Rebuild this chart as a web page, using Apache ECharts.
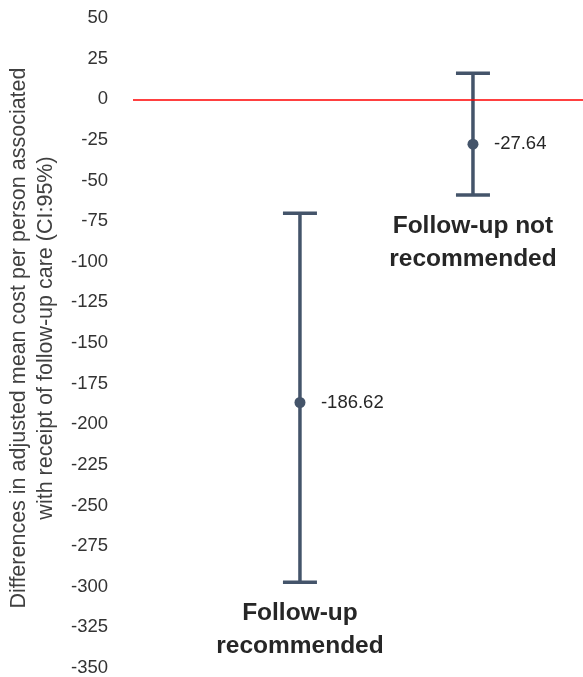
<!DOCTYPE html>
<html>
<head>
<meta charset="utf-8">
<script src="https://cdn.jsdelivr.net/npm/echarts@6/dist/echarts.min.js"></script>
<style>html,body{margin:0;padding:0;background:#fff;}#c{width:583px;height:677px;}</style>
</head>
<body>
<div id="c"></div>
<script>
const categories = ['Follow-up\nrecommended', 'Follow-up not\nrecommended'];
const xPos = [1, 2];
const means = [-186.62, -27.64];
const lowerCI = [-297.2, -58.9];
const upperCI = [-70.2, 16.0];
const meanLabels = ['-186.62', '-27.64'];
const yMin = -350, yMax = 50, yStep = 25;
const yTitle = 'Differences in adjusted mean cost per person associated\nwith receipt of follow-up care (CI:95%)';

const FONT = 'Liberation Sans, Arial, sans-serif';
const BAR = '#44546A';

const data = categories.map((c, i) => [xPos[i], means[i], lowerCI[i], upperCI[i], i]);

const chart = echarts.init(document.getElementById('c'));
chart.setOption({
  animation: false,
  grid: { left: 133, right: 0, top: 18, bottom: 9, containLabel: false, outerBoundsMode: 'none' },
  xAxis: { type: 'value', min: 0.035, max: 2.636, show: false },
  yAxis: {
    type: 'value', min: yMin, max: yMax, interval: yStep,
    axisLine: { show: false }, axisTick: { show: false }, splitLine: { show: false },
    axisLabel: { color: '#333333', fontFamily: FONT, fontSize: 18.5, margin: 25 },
    name: yTitle, nameLocation: 'middle', nameGap: 72, nameRotate: 90,
    nameTextStyle: { color: '#404040', fontFamily: FONT, fontSize: 21.5, lineHeight: 27, align: 'center', padding: [0, 0, 0, 10] }
  },
  series: [{
    type: 'custom',
    data: data,
    encode: { x: 0, y: [1, 2, 3] },
    renderItem: function (params, api) {
      const x = api.value(0);
      const m = api.coord([x, api.value(1)]);
      const lo = api.coord([x, api.value(2)]);
      const hi = api.coord([x, api.value(3)]);
      const idx = api.value(4);
      const hw = 17;
      const st = { stroke: BAR, lineWidth: 3.5 };
      return {
        type: 'group',
        children: [
          { type: 'line', shape: { x1: m[0], y1: hi[1], x2: m[0], y2: lo[1] }, style: st },
          { type: 'line', shape: { x1: m[0] - hw, y1: hi[1], x2: m[0] + hw, y2: hi[1] }, style: st },
          { type: 'line', shape: { x1: m[0] - hw, y1: lo[1], x2: m[0] + hw, y2: lo[1] }, style: st },
          { type: 'circle', shape: { cx: m[0], cy: m[1], r: 5.5 }, style: { fill: BAR } },
          { type: 'text', x: m[0] + 21, y: m[1], style: { text: meanLabels[idx], fill: '#262626', font: '18.5px ' + FONT, textAlign: 'left', textVerticalAlign: 'middle' } },
          { type: 'text', x: m[0], y: lo[1] + 15, style: { text: categories[idx], fill: '#262626', font: 'bold 24.5px ' + FONT, lineHeight: 33, textAlign: 'center', textVerticalAlign: 'top' } }
        ]
      };
    },
    markLine: {
      silent: true, symbol: 'none', label: { show: false },
      lineStyle: { color: '#FF0000', width: 1.5, type: 'solid' },
      data: [{ yAxis: 0 }]
    }
  }]
});
</script>
</body>
</html>
